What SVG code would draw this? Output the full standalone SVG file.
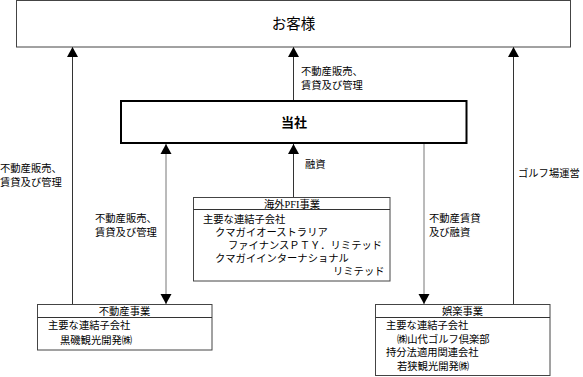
<svg xmlns="http://www.w3.org/2000/svg" width="583" height="377" viewBox="0 0 583 377">
<style>
text{font-family:"Liberation Serif","Noto Sans CJK JP",serif;font-size:10.3px;fill:#000;dominant-baseline:central}
.box{fill:#fff;stroke:#444;stroke-width:1}
.main{fill:#fff;stroke:#000;stroke-width:2}
.ln{fill:none;stroke:#333;stroke-width:1}
.lg{fill:none;stroke:#777;stroke-width:1}
.mid{text-anchor:middle}
</style>
<defs>
<marker id="ah" markerUnits="userSpaceOnUse" markerWidth="10" markerHeight="12" refX="10" refY="6" orient="auto">
<path d="M0,0.5 L10,6 L0,11.5 z" fill="#000"/>
</marker>
<marker id="as" markerUnits="userSpaceOnUse" markerWidth="10" markerHeight="12" refX="0" refY="6" orient="auto">
<path d="M10,0.5 L0,6 L10,11.5 z" fill="#000"/>
</marker>
</defs>
<g id="connectors">
<line class="ln" x1="72.5" y1="304" x2="72.5" y2="47" marker-end="url(#ah)"/>
<line class="ln" x1="293.5" y1="100" x2="293.5" y2="47" marker-end="url(#ah)"/>
<line class="ln" x1="513.5" y1="304" x2="513.5" y2="47" marker-end="url(#ah)"/>
<line class="lg" x1="166" y1="144" x2="166" y2="304" marker-start="url(#as)" marker-end="url(#ah)"/>
<line class="ln" x1="293.5" y1="197" x2="293.5" y2="144" marker-end="url(#ah)"/>
<line class="lg" x1="424" y1="144" x2="424" y2="304" marker-end="url(#ah)"/>
<text x="0" y="168">不動産販売、</text>
<text x="0" y="182">賃貸及び管理</text>
<text x="301" y="71">不動産販売、</text>
<text x="301" y="85">賃貸及び管理</text>
<text x="95" y="218">不動産販売、</text>
<text x="95" y="232">賃貸及び管理</text>
<text x="305" y="164">融資</text>
<text x="429" y="218">不動産賃貸</text>
<text x="429" y="232">及び融資</text>
<text x="518" y="173">ゴルフ場運営</text>
</g>
<g id="customer">
<rect class="box" x="16.5" y="0.5" width="554" height="46.5"/>
<text class="mid" x="293.5" y="24" style="font-size:14.5px">お客様</text>
</g>
<g id="company">
<rect class="main" x="121" y="101" width="345.5" height="42"/>
<text class="mid" x="294" y="122" style="font-size:13px;font-weight:bold">当社</text>
</g>
<g id="pfi">
<rect class="box" x="193.5" y="197.5" width="196.5" height="83.5"/>
<line class="ln" x1="193.5" y1="209.5" x2="390" y2="209.5"/>
<text class="mid" x="292" y="204">海外PFI事業</text>
<text x="203" y="219">主要な連結子会社</text>
<text x="215" y="232">クマガイオーストラリア</text>
<text x="228" y="245">ファイナンスＰＴＹ．リミテッド</text>
<text x="215" y="258">クマガイインターナショナル</text>
<text x="333" y="271">リミテッド</text>
</g>
<g id="realestate">
<rect class="box" x="37.5" y="304.5" width="174.5" height="45.5"/>
<line class="ln" x1="37.5" y1="317.5" x2="212" y2="317.5"/>
<text class="mid" x="124.5" y="311">不動産事業</text>
<text x="48" y="325">主要な連結子会社</text>
<text x="60" y="340">黒磯観光開発㈱</text>
</g>
<g id="leisure">
<rect class="box" x="375.5" y="304.5" width="174.5" height="71"/>
<line class="ln" x1="375.5" y1="317.5" x2="550" y2="317.5"/>
<text class="mid" x="462.5" y="311">娯楽事業</text>
<text x="386" y="325">主要な連結子会社</text>
<text x="397" y="339">㈱山代ゴルフ倶楽部</text>
<text x="386" y="352">持分法適用関連会社</text>
<text x="397" y="366">若狭観光開発㈱</text>
</g>
</svg>
